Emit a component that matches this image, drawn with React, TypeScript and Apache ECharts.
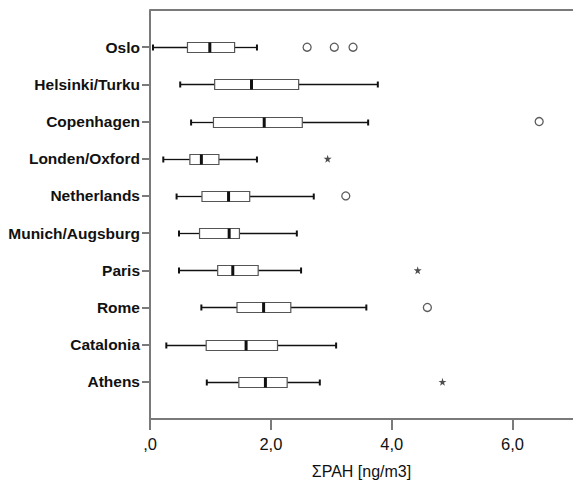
import React, { useEffect, useRef } from "react";
import * as echarts from "echarts";

const categories = [
  "Oslo",
  "Helsinki/Turku",
  "Copenhagen",
  "Londen/Oxford",
  "Netherlands",
  "Munich/Augsburg",
  "Paris",
  "Rome",
  "Catalonia",
  "Athens",
];
const minVals = [0.05, 0.5, 0.68, 0.22, 0.44, 0.48, 0.48, 0.85, 0.27, 0.94];
const q1Vals = [0.62, 1.07, 1.05, 0.66, 0.86, 0.82, 1.12, 1.44, 0.93, 1.47];
const medianVals = [0.99, 1.68, 1.89, 0.85, 1.3, 1.31, 1.37, 1.88, 1.59, 1.91];
const q3Vals = [1.4, 2.46, 2.52, 1.14, 1.65, 1.48, 1.79, 2.33, 2.11, 2.27];
const maxVals = [1.77, 3.77, 3.61, 1.77, 2.71, 2.43, 2.5, 3.58, 3.08, 2.81];

const outlierCircles: [number, string][] = [
  [2.6, "Oslo"],
  [3.05, "Oslo"],
  [3.36, "Oslo"],
  [6.44, "Copenhagen"],
  [3.24, "Netherlands"],
  [4.59, "Rome"],
];
const extremeStars: [number, string][] = [
  [2.94, "Londen/Oxford"],
  [4.43, "Paris"],
  [4.84, "Athens"],
];

const xTicks = [0, 2, 4, 6];
const xTitle = "ΣPAH [ng/m3]";

const FONT = "'Liberation Sans', Arial, sans-serif";
const STAR =
  "path://M50,0 L61,35 L98,35 L68,57 L79,91 L50,70 L21,91 L32,57 L2,35 L39,35 Z";

export default function App() {
  const ref = useRef<HTMLDivElement>(null);
  useEffect(() => {
    if (!ref.current) return;
    const chart = echarts.init(ref.current, null, { renderer: "svg" });
    const yData = ["", ...categories, ""];
    const boxData = categories.map((c, i) => [
      i + 1,
      minVals[i],
      q1Vals[i],
      medianVals[i],
      q3Vals[i],
      maxVals[i],
    ]);
    chart.setOption({
      animation: false,
      backgroundColor: "#fff",
      grid: { left: 150, top: 10, width: 425, bottom: 60, containLabel: false },
      xAxis: {
        type: "value",
        min: 0,
        max: 7,
        interval: 2,
        name: xTitle,
        nameLocation: "middle",
        nameGap: 44,
        nameTextStyle: { fontFamily: FONT, fontSize: 16, color: "#111" },
        axisLine: { show: true, lineStyle: { color: "#7a7a7a", width: 2 } },
        axisTick: { show: true, length: 11, lineStyle: { color: "#7a7a7a", width: 2 } },
        splitLine: { show: false },
        axisLabel: {
          fontFamily: FONT,
          fontSize: 16.5,
          color: "#111",
          margin: 16,
          showMaxLabel: false,
          formatter: (v: number) => {
            if (!xTicks.includes(v)) return "";
            const s = v.toFixed(1).replace(".", ",");
            return s.startsWith("0,") ? s.slice(1) : s;
          },
        },
      },
      yAxis: {
        type: "category",
        data: yData,
        inverse: true,
        boundaryGap: false,
        axisLine: { show: true, lineStyle: { color: "#7a7a7a", width: 2 } },
        axisTick: {
          show: true,
          length: 8,
          interval: (idx: number, val: string) => val !== "",
          lineStyle: { color: "#7a7a7a", width: 2 },
        },
        axisLabel: {
          interval: 0,
          fontFamily: FONT,
          fontSize: 15.5,
          fontWeight: "bold",
          color: "#111",
          margin: 10,
        },
        splitLine: { show: false },
      },
      graphic: [
        {
          type: "line",
          shape: { x1: 150, y1: 10, x2: 573, y2: 10 },
          style: { stroke: "#7a7a7a", lineWidth: 2 },
        },
      ],
      series: [
        {
          type: "custom",
          data: boxData,
          encode: { y: 0, x: [1, 2, 3, 4, 5] },
          renderItem: (params: any, api: any) => {
            const cat = api.value(0);
            const y = Math.round(api.coord([0, cat])[1]) + 0.5;
            const px = (v: number) => api.coord([v, cat])[0];
            const mn = px(api.value(1));
            const q1 = px(api.value(2));
            const md = px(api.value(3));
            const q3 = px(api.value(4));
            const mx = px(api.value(5));
            const h = 5;
            return {
              type: "group",
              children: [
                {
                  type: "line",
                  shape: { x1: mn, y1: y, x2: q1, y2: y },
                  style: { stroke: "#111", lineWidth: 1.3 },
                },
                {
                  type: "line",
                  shape: { x1: q3, y1: y, x2: mx, y2: y },
                  style: { stroke: "#111", lineWidth: 1.3 },
                },
                {
                  type: "rect",
                  shape: { x: mn - 1, y: y - 3, width: 2, height: 6 },
                  style: { fill: "#111" },
                },
                {
                  type: "rect",
                  shape: { x: mx - 1, y: y - 3, width: 2, height: 6 },
                  style: { fill: "#111" },
                },
                {
                  type: "rect",
                  shape: { x: q1, y: y - h, width: q3 - q1, height: 2 * h },
                  style: { fill: "#fff", stroke: "#555", lineWidth: 1.2 },
                },
                {
                  type: "rect",
                  shape: { x: md - 1.5, y: y - h, width: 3, height: 2 * h },
                  style: { fill: "#111" },
                },
              ],
            };
          },
          z: 3,
        },
        {
          type: "scatter",
          data: outlierCircles,
          symbol: "circle",
          symbolSize: 8,
          itemStyle: { color: "#fff", borderColor: "#333", borderWidth: 1.3 },
          z: 4,
        },
        {
          type: "scatter",
          data: extremeStars,
          symbol: STAR,
          symbolSize: 8,
          itemStyle: { color: "#222" },
          z: 4,
        },
      ],
    });
    return () => chart.dispose();
  }, []);
  return (
    <div
      ref={ref}
      style={{ position: "fixed", left: 0, top: 0, width: 573, height: 484 }}
    />
  );
}
